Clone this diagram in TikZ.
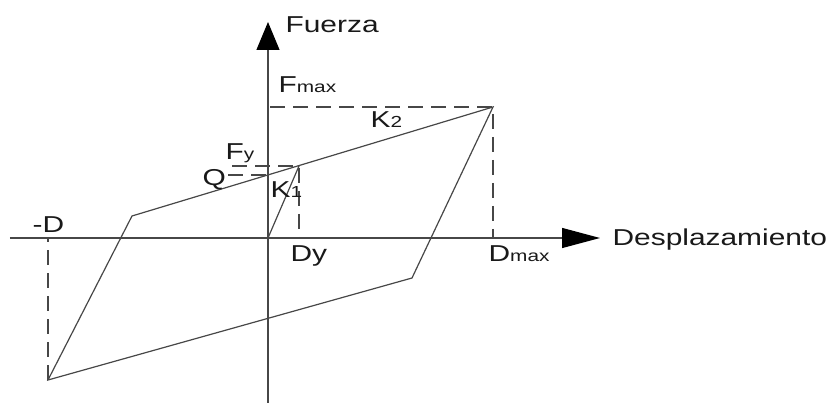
\documentclass[tikz,border=0pt]{standalone}
\usepackage{fontspec}
\setmainfont[FakeStretch=1.3]{Liberation Sans}
\usepackage{tikz}
\usetikzlibrary{arrows.meta, positioning, calc}

\newcommand{\lowtxt}[1]{{\fontsize{16}{18}\selectfont #1}}

\begin{document}
\begin{tikzpicture}[x=1pt, y=1pt, line width=1.2pt, draw=black!72,
  every node/.style={inner sep=0pt, anchor=base west, text=black!90,
    font=\fontsize{23}{26}\selectfont},
  dashline/.style={dash pattern=on 15pt off 8pt}]
  \useasboundingbox (-268,-165) rectangle (564,238);

  % Origin and axes ends
  \coordinate (O) at (0,0);
  \coordinate (Xs) at (-258,0);
  \coordinate (Xe) at (332,0);
  \coordinate (Ys) at (0,-165);
  \coordinate (Ye) at (0,216);

  % Corners of the loop
  \coordinate (Y) at (31,72);
  \coordinate (P) at (225,131);
  \coordinate (C) at (144,-40);
  \coordinate (B) at (-220,-142);
  \coordinate (A) at (-136,22);

  % Feet of the dashed lines
  \coordinate (Fm) at (2,131);
  \coordinate (Fs) at (-36,72);
  \coordinate (Qs) at (-40,63);
  \coordinate (Qe) at (0,63);

  % Draw axes
  \draw[-{Triangle[length=38pt,width=20pt,color=black]}] (Xs) -- (Xe);
  \draw[-{Triangle[length=28pt,width=23pt,color=black]}] (Ys) -- (Ye);

  % Draw initial branch and hysteresis loop
  \draw (O) -- (Y);
  \draw (A) -- (P) -- (C) -- (B) -- cycle;

  % Dashed guides
  \draw[dashline] (Fm) -- (P) -- (P |- O);
  \draw[dashline] (Fs) -- (Y) -- (Y |- O);
  \draw[dashline] (Qs) -- (Qe);
  \draw[dashline] (B) -- (B |- O);

  % Labels
  \node (fuerza) at (17,205) {Fuerza};
  \node (desp) at (344,-8) {Desplazamiento};
  \node (fmax) at (10,145) {F\lowtxt{max}};
  \node (ktwo) at (102,110) {K\lowtxt{2}};
  \node (fy) at (-43,78) {F\lowtxt{y}};
  \node (q) at (-66,52) {Q};
  \node (kone) at (2,40) {K\lowtxt{1}};
  \node (dy) at (22,-24) {Dy};
  \node (dmax) at (220,-24) {D\lowtxt{max}};
  \node (mind) at (-236,5) {-D};
\end{tikzpicture}
\end{document}
